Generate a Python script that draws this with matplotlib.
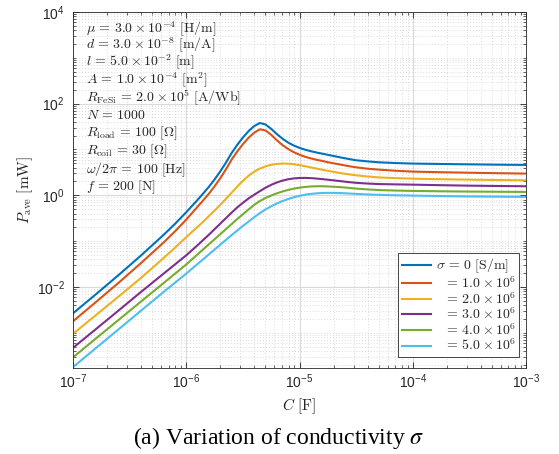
import numpy as np
import matplotlib.pyplot as plt
from matplotlib.ticker import LogLocator, NullFormatter

plt.rcParams["font.family"] = "Liberation Sans"
plt.rcParams["mathtext.fontset"] = "cm"

# values read on the log axes: log10 of C [F]
logC = [-7.0, -6.8, -6.6, -6.4, -6.2, -6.1,
        -6.0, -5.95, -5.9, -5.85, -5.8, -5.75, -5.7, -5.65, -5.6, -5.55,
        -5.5, -5.45, -5.4, -5.35, -5.3, -5.25, -5.2, -5.15, -5.1, -5.05,
        -5.0, -4.95, -4.9, -4.85, -4.8, -4.75, -4.7, -4.65, -4.6, -4.55,
        -4.5, -4.4, -4.3, -4.15, -4.0, -3.75, -3.5, -3.25, -3.0]

# log10 of P_ave [mW] for each conductivity
logP_sigma0 = [-2.576, -2.165, -1.746, -1.315, -0.864, -0.625,
               -0.370, -0.235, -0.100, 0.040, 0.185, 0.345, 0.520, 0.710, 0.920, 1.100,
               1.260, 1.400, 1.510, 1.578, 1.545, 1.450, 1.335, 1.235, 1.150, 1.085,
               1.035, 0.995, 0.962, 0.934, 0.908, 0.883, 0.858, 0.832, 0.808, 0.785,
               0.764, 0.740, 0.720, 0.703, 0.692, 0.683, 0.675, 0.668, 0.662]
logP_sigma1 = [-2.751, -2.335, -1.915, -1.480, -1.030, -0.790,
               -0.530, -0.390, -0.250, -0.110, 0.035, 0.195, 0.370, 0.565, 0.775, 0.955,
               1.115, 1.255, 1.365, 1.440, 1.415, 1.320, 1.200, 1.095, 1.010, 0.940,
               0.885, 0.840, 0.805, 0.775, 0.750, 0.722, 0.698, 0.675, 0.652, 0.630,
               0.610, 0.580, 0.560, 0.535, 0.517, 0.503, 0.492, 0.482, 0.473]
logP_sigma2 = [-3.024, -2.620, -2.215, -1.805, -1.370, -1.145,
               -0.915, -0.800, -0.690, -0.575, -0.455, -0.335, -0.210, -0.080, 0.055, 0.190,
               0.315, 0.425, 0.515, 0.583, 0.632, 0.665, 0.685, 0.692, 0.690, 0.678,
               0.658, 0.634, 0.608, 0.583, 0.558, 0.535, 0.512, 0.490, 0.470, 0.452,
               0.436, 0.410, 0.390, 0.374, 0.362, 0.350, 0.341, 0.333, 0.327]
logP_sigma3 = [-3.330, -2.925, -2.520, -2.110, -1.710, -1.510,
               -1.310, -1.200, -1.090, -0.975, -0.860, -0.740, -0.620, -0.500, -0.380, -0.265,
               -0.165, -0.070, 0.012, 0.090, 0.166, 0.228, 0.280, 0.320, 0.350, 0.368,
               0.377, 0.379, 0.375, 0.365, 0.353, 0.340, 0.326, 0.312, 0.298, 0.284,
               0.272, 0.256, 0.245, 0.238, 0.232, 0.220, 0.210, 0.203, 0.197]
logP_sigma4 = [-3.537, -3.130, -2.725, -2.320, -1.915, -1.713,
               -1.510, -1.400, -1.290, -1.180, -1.070, -0.960, -0.850, -0.740, -0.630, -0.520,
               -0.415, -0.310, -0.210, -0.125, -0.060, -0.005, 0.042, 0.083, 0.117, 0.145,
               0.166, 0.182, 0.192, 0.197, 0.197, 0.193, 0.187, 0.179, 0.170, 0.158,
               0.146, 0.128, 0.114, 0.103, 0.095, 0.087, 0.081, 0.077, 0.073]
logP_sigma5 = [-3.750, -3.340, -2.930, -2.520, -2.110, -1.910,
               -1.710, -1.605, -1.500, -1.395, -1.290, -1.185, -1.080, -0.975, -0.870, -0.770,
               -0.670, -0.575, -0.480, -0.390, -0.310, -0.240, -0.178, -0.126, -0.082, -0.043,
               -0.012, 0.012, 0.030, 0.042, 0.050, 0.053, 0.052, 0.049, 0.044, 0.037,
               0.030, 0.018, 0.009, 0.000, -0.007, -0.017, -0.025, -0.031, -0.036]

series = [logP_sigma0, logP_sigma1, logP_sigma2, logP_sigma3, logP_sigma4, logP_sigma5]
labels = [r"$\sigma\,=\,0\ [\mathrm{S/m}]$",
          r"$\enspace\,=\,1.0\times10^{6}$",
          r"$\enspace\,=\,2.0\times10^{6}$",
          r"$\enspace\,=\,3.0\times10^{6}$",
          r"$\enspace\,=\,4.0\times10^{6}$",
          r"$\enspace\,=\,5.0\times10^{6}$"]
colors = ["#0072BD", "#D95319", "#EDB120", "#7E2F8E", "#77AC30", "#4DBEEE"]

params = [r"$\mu\,=\,3.0\times10^{-4}\ [\mathrm{H/m}]$",
          r"$d\,=\,3.0\times10^{-8}\ [\mathrm{m/A}]$",
          r"$l\,=\,5.0\times10^{-2}\ [\mathrm{m}]$",
          r"$A\,=\,1.0\times10^{-4}\ [\mathrm{m}^2]$",
          r"$R_{\mathrm{FeSi}}\,=\,2.0\times10^{5}\ [\mathrm{A/Wb}]$",
          r"$N\,=\,1000$",
          r"$R_{\mathrm{load}}\,=\,100\ [\Omega]$",
          r"$R_{\mathrm{coil}}\,=\,30\ [\Omega]$",
          r"$\omega/2\pi\,=\,100\ [\mathrm{Hz}]$",
          r"$f\,=\,200\ [\mathrm{N}]$"]
# vertical centre of each parameter line, in pixels from the top
param_px = [29, 45, 62, 80, 97, 115, 133, 151.5, 170, 187]

W, H = 559, 454
fig = plt.figure(figsize=(W / 100, H / 100), dpi=100)
ax = fig.add_axes([73 / W, 1 - 368 / H, 453 / W, 356 / H])

C = 10.0 ** np.array(logC)
for logP, col, lab in zip(series, colors, labels):
    ax.plot(C, 10.0 ** np.array(logP), color=col, lw=1.5, label=lab)

ax.set_xscale("log")
ax.set_yscale("log")
ax.set_xlim(1e-7, 1e-3)
ax.set_ylim(1.7e-4, 1e4)
ax.set_xticks([1e-7, 1e-6, 1e-5, 1e-4, 1e-3])
ax.set_yticks([1e-2, 1e0, 1e2, 1e4])
ax.xaxis.set_minor_locator(LogLocator(base=10, subs=np.arange(2, 10), numticks=100))
ax.yaxis.set_minor_locator(LogLocator(base=10, subs=np.arange(1, 10), numticks=100))
ax.xaxis.set_minor_formatter(NullFormatter())
ax.yaxis.set_minor_formatter(NullFormatter())

ax.set_axisbelow(True)
ax.grid(which="major", color="#dadada", lw=0.8)
ax.grid(which="minor", color="#cfcfcf", lw=0.6, linestyle=(0, (1, 2.5)))

ax.tick_params(which="both", direction="in", top=True, right=True,
               colors="#262626", labelsize=10)
ax.tick_params(which="major", length=4.5, width=0.6)
ax.tick_params(which="minor", length=2.5, width=0.5)
ax.tick_params(axis="x", pad=3)
ax.tick_params(axis="y", pad=6)
for s in ax.spines.values():
    s.set_color("#262626")
    s.set_linewidth(0.6)

ax.set_xlabel(r"$C\ [\mathrm{F}]$", fontsize=11, color="#262626")
ax.set_ylabel(r"$P_{\mathrm{ave}}\ [\mathrm{mW}]$", fontsize=11, color="#262626")
ax.xaxis.set_label_coords(0.5, -0.079)
ax.yaxis.set_label_coords(-0.084, 0.5)

for txt, ypx in zip(params, param_px):
    ax.text((86 - 73) / 453, (368 - ypx) / 356, txt, transform=ax.transAxes,
            ha="left", va="center", fontsize=10, color="#262626")

leg = ax.legend(loc="lower right", bbox_to_anchor=(0.985, 0.031), borderaxespad=0,
                fontsize=10, handlelength=2.15, handletextpad=0.3,
                labelspacing=0.0, borderpad=0.25, fancybox=False, framealpha=1)
leg.get_frame().set_edgecolor("#262626")
leg.get_frame().set_linewidth(0.6)
for t in leg.get_texts():
    t.set_color("#262626")

fig.text(279 / W, 1 - 438 / H, r"(a) Variation of conductivity $\sigma$",
         ha="center", va="center", fontsize=17, family="Liberation Serif",
         math_fontfamily="stix")

fig.savefig("out.png", dpi=100)
